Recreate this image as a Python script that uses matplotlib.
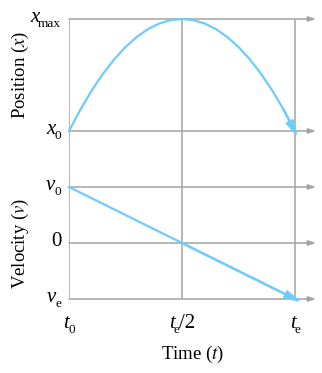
import matplotlib
matplotlib.use("Agg")
import matplotlib.pyplot as plt

# values (t in units of t_e, x scaled so x0=0, xmax=1, v scaled so v0=1)
t_points = [0.0, 0.05, 0.10, 0.15, 0.20, 0.25, 0.30, 0.35, 0.40, 0.45, 0.50,
            0.55, 0.60, 0.65, 0.70, 0.75, 0.80, 0.85, 0.90, 0.95, 1.0]
position = [0.0, 0.19, 0.36, 0.51, 0.64, 0.75, 0.84, 0.91, 0.96, 0.99, 1.0,
            0.99, 0.96, 0.91, 0.84, 0.75, 0.64, 0.51, 0.36, 0.19, 0.0]
position_tip = (1.013, -0.06)
t_vel = [0.0, 0.5, 1.0]
velocity = [1.0, 0.0, -1.0]
velocity_tip = (1.03, -1.06)

# tick labels as (symbol, subscript, tail)
t_ticks = [0.0, 0.5, 1.0]
t_labels = [("t", "0", ""), ("t", "e", "/2"), ("t", "e", "")]
x_ticks = [0.0, 1.0]
x_labels = [("x", "0", ""), ("x", "max", "")]
v_ticks = [-1.0, 0.0, 1.0]
v_labels = [("v", "e", ""), ("0", "", ""), ("v", "0", "")]

plt.rcParams["font.family"] = ["Liberation Serif", "DejaVu Serif"]
plt.rcParams["mathtext.fontset"] = "stix"

GRAY = "#a3a3a3"
BLUE = "#6ccdfb"
XMAX = 1.093
MAIN_FS = 15
SUB_FS = 9.5

fig = plt.figure(figsize=(3.22, 3.73), dpi=100)
ax_x = fig.add_axes([0.2143, 0.4987, 0.767, 0.4504])
ax_v = fig.add_axes([0.2143, 0.1984, 0.767, 0.3003])
ax_x.set_ylim(-0.5, 1.0)
ax_v.set_ylim(-1.0, 1.0)
renderer = fig.canvas.get_renderer()


def tick_label(ax, x, y, label, anchor, dx, dy):
    main, sub, tail = label
    kw = dict(xy=(x, y), xytext=(0, 0), textcoords="offset pixels", ha="left",
              va="baseline", annotation_clip=False)
    pieces = [(ax.annotate(main, fontsize=MAIN_FS, style="italic" if main.isalpha() else "normal", **kw), 0)]
    if sub:
        pieces.append((ax.annotate(sub, fontsize=SUB_FS, **kw), -5))
    if tail:
        pieces.append((ax.annotate(tail, fontsize=MAIN_FS, **kw), 0))
    widths = [p.get_window_extent(renderer).width for p, _ in pieces]
    starts = []
    pos = 0
    for i, w in enumerate(widths):
        starts.append(pos)
        pos += w - (1 if i == 0 else 0)
    shift = -pos if anchor == "right" else -pos / 2
    for (p, drop), s in zip(pieces, starts):
        p.xyann = (dx + shift + s, dy + drop)


def grid_lines(ax, yvals, labels):
    ax.set_xlim(0, XMAX)
    for side in ax.spines.values():
        side.set_visible(False)
    ax.set_xticks([])
    ax.set_yticks([])
    for t in t_ticks:
        ax.axvline(t, color=GRAY, lw=1.1, zorder=1)
    for y, lab in zip(yvals, labels):
        ax.annotate("", xy=(XMAX, y), xytext=(0, y), annotation_clip=False,
                    arrowprops=dict(arrowstyle="-|>,head_length=0.45,head_width=0.15",
                                    color=GRAY, lw=1.1, shrinkA=0, shrinkB=0, mutation_scale=10),
                    zorder=1)
        tick_label(ax, 0, y, lab, "right", -8, -3)


grid_lines(ax_x, x_ticks, x_labels)
grid_lines(ax_v, v_ticks, v_labels)

blue_arrow = dict(arrowstyle="-|>,head_length=0.8,head_width=0.2",
                  color=BLUE, lw=1.6, shrinkA=0, shrinkB=0, mutation_scale=12)

ax_x.plot(t_points, position, color=BLUE, lw=1.6, clip_on=False, zorder=3)
ax_x.annotate("", xy=position_tip, xytext=(t_points[-2], position[-2]),
              annotation_clip=False, arrowprops=blue_arrow, zorder=3)

ax_v.plot(t_vel, velocity, color=BLUE, lw=1.6, clip_on=False, zorder=3)
ax_v.annotate("", xy=velocity_tip, xytext=(t_vel[-2], velocity[-2]),
              annotation_clip=False, arrowprops=blue_arrow, zorder=3)

for t, lab in zip(t_ticks, t_labels):
    tick_label(ax_v, t, -1.0, lab, "center", 0, -29)

ax_v.set_xlabel(r"Time ($t$)", fontsize=13.5, labelpad=32)
ax_x.set_ylabel(r"Position ($x$)", fontsize=13.5)
ax_v.set_ylabel(r"Velocity ($v$)", fontsize=13.5)
ax_x.yaxis.set_label_coords(-0.155, 0.666)
ax_v.yaxis.set_label_coords(-0.155, 0.5)

fig.savefig("out.png", dpi=100)
